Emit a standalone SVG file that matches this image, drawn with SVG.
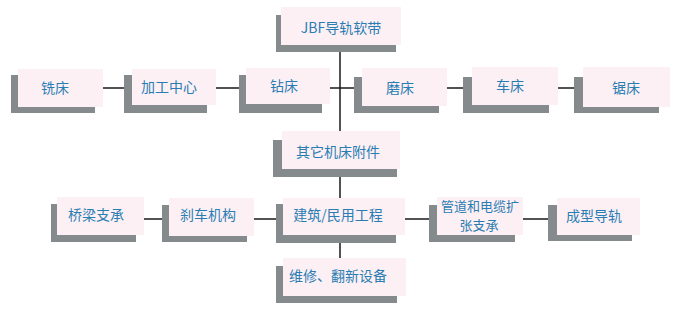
<svg xmlns="http://www.w3.org/2000/svg" width="685" height="313" viewBox="0 0 685 313">
<style>
.sh{fill:#858a8c}
.bx{fill:#fdf0f4}
.t{font-family:"Noto Sans CJK SC","Noto Sans",sans-serif;font-size:14px;fill:#2a7db3;text-anchor:middle;dominant-baseline:central}
.s{font-size:13px}
.c{stroke:#1a1a1a;stroke-width:1.5;fill:none}
</style>
<rect width="685" height="313" fill="#ffffff"/>
<g id="connectors">
<path class="c" d="M340 52V131M340 177V198M340 243V258"/>
<path class="c" d="M103 88H124M216 88H239M330 88H354M447 88H463M558 88H574"/>
<path class="c" d="M144 219H162M254 219H276M405 219H429M523 219H548"/>
</g>
<g id="n_jbf"><rect class="sh" x="276" y="15" width="120" height="37"/><rect class="bx" x="281" y="7" width="120" height="38"/><text class="t" x="341" y="27">JBF导轨软带</text></g>
<g id="n_xichuang"><rect class="sh" x="11" y="75" width="84" height="38"/><rect class="bx" x="18" y="69" width="85" height="38"/><text class="t" x="55" y="87">铣床</text></g>
<g id="n_jiagong"><rect class="sh" x="124" y="75" width="83" height="38"/><rect class="bx" x="132" y="69" width="84" height="36"/><text class="t" x="169" y="86">加工中心</text></g>
<g id="n_zuanchuang"><rect class="sh" x="239" y="75" width="83" height="38"/><rect class="bx" x="246" y="68" width="84" height="36"/><text class="t" x="284" y="85">钻床</text></g>
<g id="n_mochuang"><rect class="sh" x="354" y="77" width="85" height="36"/><rect class="bx" x="362" y="68" width="85" height="38"/><text class="t" x="400" y="87">磨床</text></g>
<g id="n_chechuang"><rect class="sh" x="463" y="77" width="86" height="36"/><rect class="bx" x="472" y="67" width="86" height="38"/><text class="t" x="510" y="85">车床</text></g>
<g id="n_juchuang"><rect class="sh" x="574" y="77" width="85" height="36"/><rect class="bx" x="583" y="67" width="87" height="40"/><text class="t" x="626" y="87">锯床</text></g>
<g id="n_qita"><rect class="sh" x="273" y="140" width="124" height="37"/><rect class="bx" x="282" y="131" width="118" height="38"/><text class="t" x="338" y="151">其它机床附件</text></g>
<g id="n_qiaoliang"><rect class="sh" x="51" y="204" width="85" height="38"/><rect class="bx" x="57" y="197" width="87" height="38"/><text class="t" x="96" y="214">桥梁支承</text></g>
<g id="n_shache"><rect class="sh" x="162" y="205" width="85" height="37"/><rect class="bx" x="169" y="198" width="85" height="38"/><text class="t" x="208" y="214">刹车机构</text></g>
<g id="n_jianzhu"><rect class="sh" x="276" y="204" width="120" height="39"/><rect class="bx" x="283" y="198" width="122" height="37"/><text class="t" x="338" y="214">建筑/民用工程</text></g>
<g id="n_guandao"><rect class="sh" x="429" y="205" width="86" height="37"/><rect class="bx" x="437" y="197" width="86" height="38"/><text class="t s"><tspan x="480" y="204.5">管道和电缆扩</tspan><tspan x="479" y="223.5">张支承</tspan></text></g>
<g id="n_chengxing"><rect class="sh" x="548" y="205" width="84" height="36"/><rect class="bx" x="557" y="198" width="83" height="37"/><text class="t" x="594" y="215">成型导轨</text></g>
<g id="n_weixiu"><rect class="sh" x="276" y="266" width="121" height="37"/><rect class="bx" x="283" y="258" width="123" height="38"/><text class="t" x="338" y="275">维修、翻新设备</text></g>
</svg>
